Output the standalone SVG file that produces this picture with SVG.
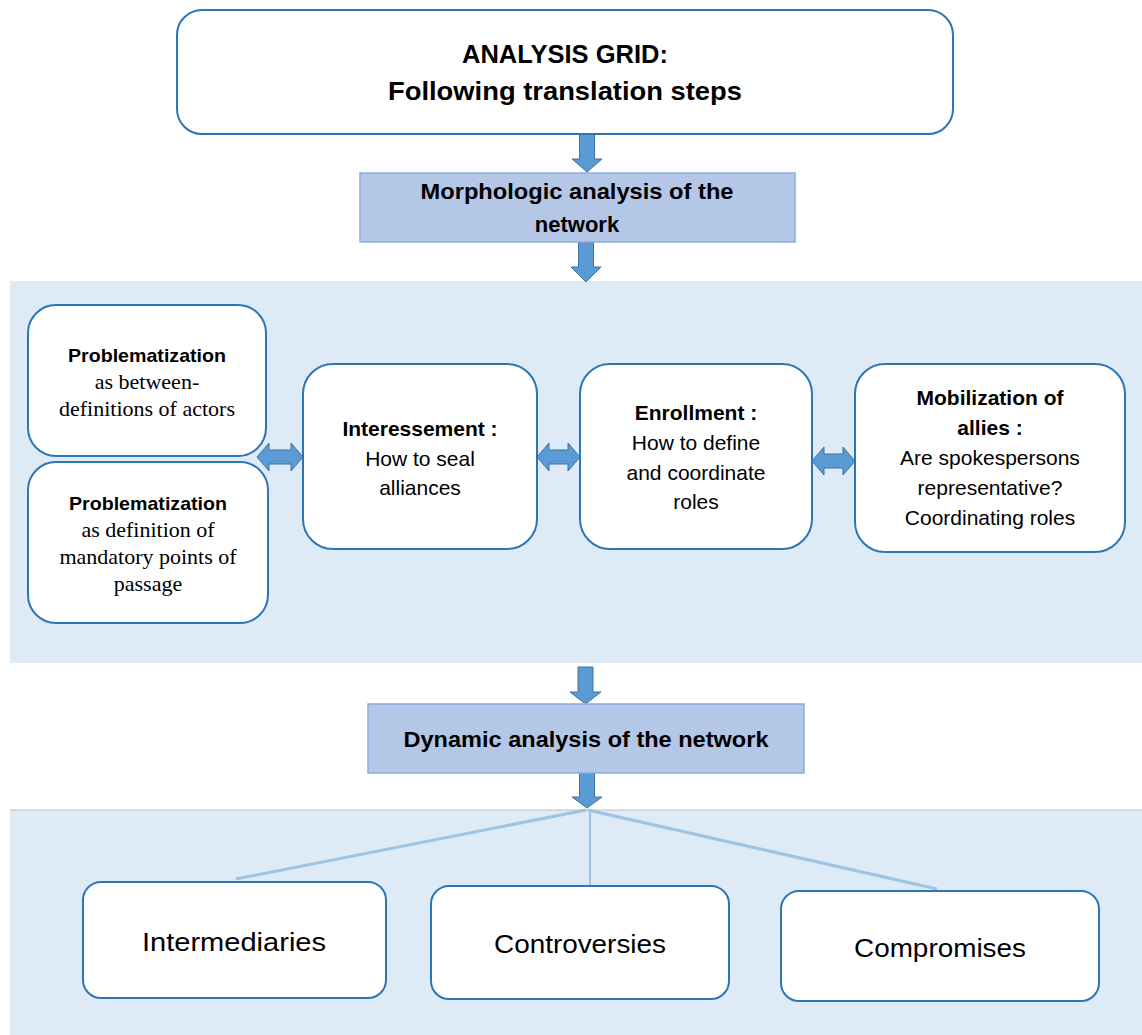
<svg xmlns="http://www.w3.org/2000/svg" width="1142" height="1035" viewBox="0 0 1142 1035">
<style>
.band{fill:#DEEAF6}
.box{fill:#FFFFFF;stroke:#2E75B6;stroke-width:2}
.sbox{fill:#B4C7E7;stroke:#8FAADC;stroke-width:1.5}
.arr{fill:#5B9BD5;stroke:#41719C;stroke-width:1}
.conn{stroke:#9DC3E6;fill:none}
.t{font-family:"Liberation Sans",Arial,sans-serif;fill:#000;text-anchor:middle}
.b{font-weight:bold}
.s{font-family:"Liberation Serif","Times New Roman",serif;fill:#000;text-anchor:middle;font-size:22px}
</style>
<rect width="1142" height="1035" fill="#FFFFFF"/>
<rect class="band" x="10" y="281" width="1132" height="382"/>
<rect class="band" x="10" y="810" width="1132" height="225"/>
<line x1="10" y1="810" x2="1142" y2="810" stroke="#BFBFBF" stroke-width="1"/>

<g id="connectors">
<path class="arr" d="M579.5,133 H594.5 V159 H602 L587,172 L572,159 H579.5 Z"/>
<path class="arr" d="M578.5,242 H593.5 V267 H601 L586,282 L571,267 H578.5 Z"/>
<path class="arr" d="M578,667 H593 V692 H601 L585.5,704 L570,692 H578 Z"/>
<path class="arr" d="M579.5,773 H594.5 V797 H602 L587,808 L572,797 H579.5 Z"/>
<path class="arr" d="M257,457 L269,443 L269,450 L291,450 L291,443 L303,457 L291,471 L291,464 L269,464 L269,471 Z"/>
<path class="arr" d="M537,457 L549,443 L549,450 L568,450 L568,443 L580,457 L568,471 L568,464 L549,464 L549,471 Z"/>
<path class="arr" d="M812,461 L824,447 L824,454 L843,454 L843,447 L855,461 L843,475 L843,468 L824,468 L824,475 Z"/>
<line class="conn" x1="586" y1="810" x2="236" y2="879" stroke-width="3"/>
<line class="conn" x1="590" y1="810" x2="590" y2="886" stroke-width="2"/>
<line class="conn" x1="588" y1="810" x2="937" y2="889" stroke-width="3"/>
</g>

<g id="title">
<rect class="box" x="177" y="10" width="776" height="124" rx="25"/>
<text class="t b" x="565" y="63" font-size="25" textLength="206" lengthAdjust="spacingAndGlyphs">ANALYSIS GRID:</text>
<text class="t b" x="565" y="100" font-size="25" textLength="354" lengthAdjust="spacingAndGlyphs">Following translation steps</text>
</g>

<g id="morphologic">
<rect class="sbox" x="360" y="173" width="435" height="69"/>
<text class="t b" x="577" y="199" font-size="22" textLength="313" lengthAdjust="spacingAndGlyphs">Morphologic analysis of the</text>
<text class="t b" x="577" y="232" font-size="22">network</text>
</g>

<g id="problematization1">
<rect class="box" x="28" y="305" width="238" height="151" rx="28"/>
<text class="t b" x="147" y="362" font-size="19" textLength="158" lengthAdjust="spacingAndGlyphs">Problematization</text>
<text class="s" x="147" y="389">as between-</text>
<text class="s" x="147" y="416">definitions of actors</text>
</g>

<g id="problematization2">
<rect class="box" x="28" y="462" width="240" height="161" rx="28"/>
<text class="t b" x="148" y="510" font-size="19" textLength="158" lengthAdjust="spacingAndGlyphs">Problematization</text>
<text class="s" x="148" y="537">as definition of</text>
<text class="s" x="148" y="564">mandatory points of</text>
<text class="s" x="148" y="591">passage</text>
</g>

<g id="interessement">
<rect class="box" x="303" y="364" width="234" height="185" rx="30"/>
<text class="t b" x="420" y="436" font-size="21">Interessement :</text>
<text class="t" x="420" y="466" font-size="21">How to seal</text>
<text class="t" x="420" y="495" font-size="21">alliances</text>
</g>

<g id="enrollment">
<rect class="box" x="580" y="364" width="232" height="185" rx="30"/>
<text class="t b" x="696" y="420" font-size="21">Enrollment :</text>
<text class="t" x="696" y="450" font-size="21">How to define</text>
<text class="t" x="696" y="480" font-size="21">and coordinate</text>
<text class="t" x="696" y="509" font-size="21">roles</text>
</g>

<g id="mobilization">
<rect class="box" x="855" y="364" width="270" height="188" rx="30"/>
<text class="t b" x="990" y="405" font-size="21">Mobilization of</text>
<text class="t b" x="990" y="435" font-size="21">allies :</text>
<text class="t" x="990" y="465" font-size="21">Are spokespersons</text>
<text class="t" x="990" y="495" font-size="21">representative?</text>
<text class="t" x="990" y="525" font-size="21">Coordinating roles</text>
</g>

<g id="dynamic">
<rect class="sbox" x="368" y="704" width="436" height="69"/>
<text class="t b" x="586" y="747" font-size="22" textLength="365" lengthAdjust="spacingAndGlyphs">Dynamic analysis of the network</text>
</g>

<g id="intermediaries">
<rect class="box" x="83" y="882" width="303" height="116" rx="18"/>
<text class="t" x="234" y="951" font-size="26" textLength="184" lengthAdjust="spacingAndGlyphs">Intermediaries</text>
</g>

<g id="controversies">
<rect class="box" x="431" y="886" width="298" height="113" rx="18"/>
<text class="t" x="580" y="953" font-size="26" textLength="172" lengthAdjust="spacingAndGlyphs">Controversies</text>
</g>

<g id="compromises">
<rect class="box" x="781" y="891" width="318" height="110" rx="18"/>
<text class="t" x="940" y="957" font-size="26" textLength="172" lengthAdjust="spacingAndGlyphs">Compromises</text>
</g>
</svg>
